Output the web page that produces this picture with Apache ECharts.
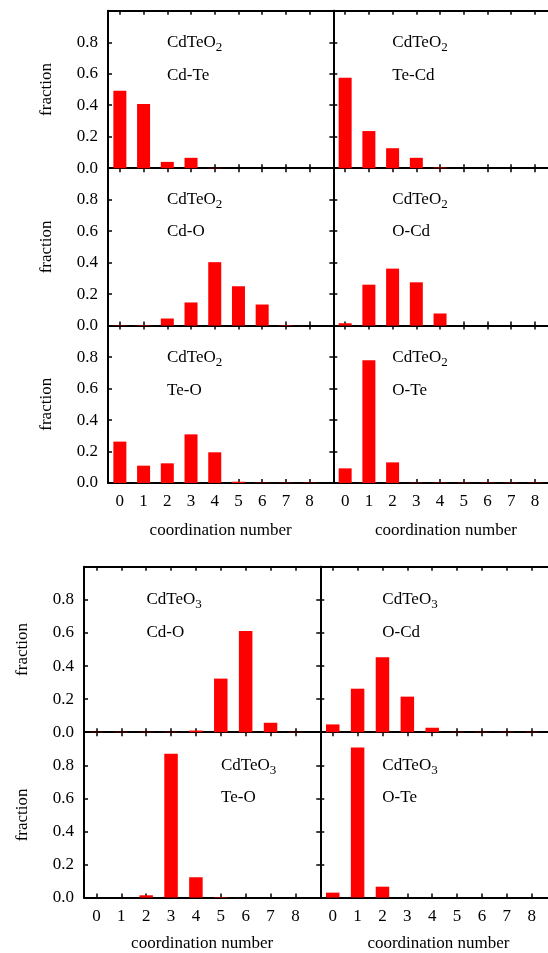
<!DOCTYPE html>
<html>
<head>
<meta charset="utf-8">
<script src="https://cdn.jsdelivr.net/npm/echarts@6/dist/echarts.min.js"></script>
<style>
html,body{margin:0;padding:0;background:#fff;}
#chart{width:548px;height:953px;}
</style>
</head>
<body>
<div id="chart"></div>
<script>
// ---------- data ----------
var categories = [0, 1, 2, 3, 4, 5, 6, 7, 8];
var yTickLabels = ['0.0', '0.2', '0.4', '0.6', '0.8'];
var xName = 'coordination number';
var yName = 'fraction';

var o2_CdTe = [0.492, 0.408, 0.040, 0.066, 0.002, 0, 0, 0, 0];
var o2_TeCd = [0.575, 0.236, 0.127, 0.066, 0.004, 0, 0, 0, 0];
var o2_CdO  = [0.002, 0.003, 0.045, 0.147, 0.403, 0.250, 0.134, 0.003, 0];
var o2_OCd  = [0.015, 0.260, 0.362, 0.275, 0.077, 0, 0, 0, 0];
var o2_TeO  = [0.263, 0.110, 0.125, 0.309, 0.195, 0.008, 0.002, 0.002, 0.002];
var o2_OTe  = [0.093, 0.780, 0.131, 0.002, 0.002, 0.002, 0.002, 0.002, 0.002];
var o3_CdO  = [0.002, 0.002, 0.002, 0.002, 0.010, 0.324, 0.612, 0.057, 0.002];
var o3_OCd  = [0.047, 0.263, 0.453, 0.215, 0.027, 0.002, 0.002, 0.002, 0.002];
var o3_TeO  = [0, 0, 0.014, 0.870, 0.123, 0.003, 0, 0, 0];
var o3_OTe  = [0.030, 0.908, 0.066, 0, 0, 0, 0, 0, 0];

var compoundO2 = 'CdTeO';
var subO2 = '2';
var compoundO3 = 'CdTeO';
var subO3 = '3';

// ---------- layout ----------
var FONT = 'Liberation Serif';
var blocks = [
  {left: 108, mid: 333.3, unit: 23.72, tops: [10.8, 168.2, 325.6], h: 157.4, barW: 13, nameGap: 39},
  {left: 84, mid: 320.3, unit: 24.87, tops: [566.8, 732.2], h: 165.4, barW: 13.5, nameGap: 37}
];
var panels = [
  {b: 0, r: 0, c: 0, vals: o2_CdTe, comp: compoundO2, sub: subO2, pair: 'Cd-Te', tx: 59, ty: 32},
  {b: 0, r: 0, c: 1, vals: o2_TeCd, comp: compoundO2, sub: subO2, pair: 'Te-Cd', tx: 59, ty: 32},
  {b: 0, r: 1, c: 0, vals: o2_CdO,  comp: compoundO2, sub: subO2, pair: 'Cd-O',  tx: 59, ty: 31},
  {b: 0, r: 1, c: 1, vals: o2_OCd,  comp: compoundO2, sub: subO2, pair: 'O-Cd',  tx: 59, ty: 31},
  {b: 0, r: 2, c: 0, vals: o2_TeO,  comp: compoundO2, sub: subO2, pair: 'Te-O',  tx: 59, ty: 32},
  {b: 0, r: 2, c: 1, vals: o2_OTe,  comp: compoundO2, sub: subO2, pair: 'O-Te',  tx: 59, ty: 32},
  {b: 1, r: 0, c: 0, vals: o3_CdO,  comp: compoundO3, sub: subO3, pair: 'Cd-O',  tx: 62.5, ty: 33},
  {b: 1, r: 0, c: 1, vals: o3_OCd,  comp: compoundO3, sub: subO3, pair: 'O-Cd',  tx: 62, ty: 33},
  {b: 1, r: 1, c: 0, vals: o3_TeO,  comp: compoundO3, sub: subO3, pair: 'Te-O',  tx: 137, ty: 33},
  {b: 1, r: 1, c: 1, vals: o3_OTe,  comp: compoundO3, sub: subO3, pair: 'O-Te',  tx: 62, ty: 33}
];

var grid = [], xAxis = [], yAxis = [], series = [], graphic = [];
var lineStyle = {color: '#000', width: 2};
var tickStyle = {color: '#000', width: 1.5};

panels.forEach(function (p, i) {
  var B = blocks[p.b];
  var gl = p.c === 0 ? B.left : B.mid;
  var gw = 9.5 * B.unit;
  var gt = B.tops[p.r];
  var isBottom = p.r === B.tops.length - 1;
  var isLeft = p.c === 0;
  grid.push({left: gl, top: gt, width: gw, height: B.h, containLabel: false, outerBoundsMode: 'none'});

  var xBase = {
    type: 'value', gridIndex: i, min: -0.5, max: 9,
    axisLine: {show: true, onZero: false, lineStyle: lineStyle},
    axisTick: {show: true, inside: true, length: 4, customValues: categories, lineStyle: tickStyle},
    splitLine: {show: false}
  };
  xAxis.push(Object.assign({}, xBase, {
    position: 'bottom',
    axisLabel: {show: isBottom, customValues: categories, margin: 10,
      fontFamily: FONT, fontSize: 17, color: '#000'},
    name: isBottom ? xName : '', nameLocation: 'middle', nameGap: B.nameGap,
    nameTextStyle: {fontFamily: FONT, fontSize: 17, color: '#000'}
  }));
  xAxis.push(Object.assign({}, xBase, {position: 'top', axisLabel: {show: false}}));

  var yBase = {
    type: 'value', gridIndex: i, min: 0, max: 1, interval: 0.2,
    axisLine: {show: true, onZero: false, lineStyle: lineStyle},
    axisTick: {show: true, inside: true, length: 4, lineStyle: tickStyle},
    splitLine: {show: false}
  };
  yAxis.push(Object.assign({}, yBase, {
    position: 'left',
    axisLabel: {show: isLeft, margin: 10, fontFamily: FONT, fontSize: 17, color: '#000',
      formatter: function (v) { var k = Math.round(v * 5); return k < yTickLabels.length ? yTickLabels[k] : ''; }},
    name: isLeft ? yName : '', nameLocation: 'middle', nameGap: 53,
    nameTextStyle: {fontFamily: FONT, fontSize: 17, color: '#000'}
  }));
  yAxis.push(Object.assign({}, yBase, {position: 'right', axisLabel: {show: false}}));

  series.push({
    type: 'bar', xAxisIndex: 2 * i, yAxisIndex: 2 * i,
    barWidth: B.barW,
    itemStyle: {color: '#ff0000'},
    data: categories.map(function (c, k) { return [c, p.vals[k]]; }),
    silent: true, animation: false
  });

  graphic.push({
    type: 'text', left: gl + p.tx, top: gt + p.ty - 11, silent: true,
    style: {
      text: '{a|' + p.comp + '}{s|' + p.sub + '}',
      rich: {
        a: {fontFamily: FONT, fontSize: 17, fill: '#000', height: 22, lineHeight: 22},
        s: {fontFamily: FONT, fontSize: 13, fill: '#000', padding: [10, 0, 0, 0]}
      }
    }
  });
  graphic.push({
    type: 'text', left: gl + p.tx, top: gt + p.ty + 33 - 9, silent: true,
    style: {text: p.pair, fontFamily: FONT, fontSize: 17, fill: '#000'}
  });
});

var chart = echarts.init(document.getElementById('chart'), null, {renderer: 'canvas'});
chart.setOption({
  animation: false,
  backgroundColor: '#fff',
  grid: grid, xAxis: xAxis, yAxis: yAxis, series: series, graphic: graphic
});
</script>
</body>
</html>
